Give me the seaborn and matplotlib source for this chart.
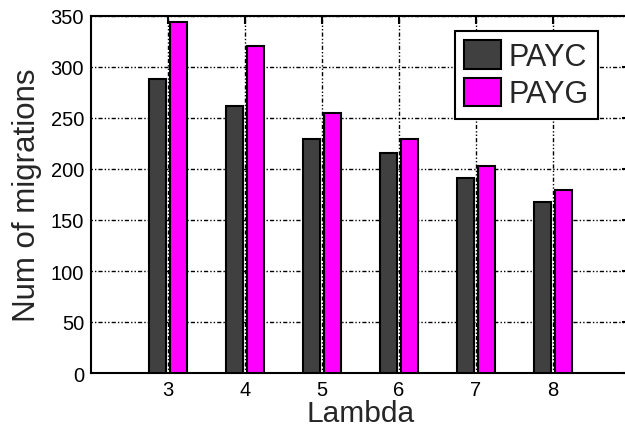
import matplotlib
matplotlib.use("Agg")
import matplotlib.pyplot as plt
import seaborn as sns
import pandas as pd

lambdas = ["3", "4", "5", "6", "7", "8"]
payc = [288, 262, 229, 216, 191, 168]
payg = [344, 321, 255, 229, 203, 179]
series = ["PAYC", "PAYG"]
colors = ["#404040", "#ff00ff"]

df = pd.DataFrame({
    "Lambda": lambdas * 2,
    "value": payc + payg,
    "series": [series[0]] * len(lambdas) + [series[1]] * len(lambdas),
})

sns.set_style("white")
plt.rcParams["font.family"] = ["Liberation Sans", "DejaVu Sans"]

fig = plt.figure(figsize=(6.25, 4.31), dpi=100)
ax = fig.add_axes([91 / 625, 1 - 374 / 431, (630 - 91) / 625, (374 - 17) / 431])

sns.barplot(data=df, x="Lambda", y="value", hue="series", order=lambdas,
            hue_order=series, palette=colors, width=0.56, gap=0.2,
            edgecolor="black", linewidth=1.5, saturation=1, ax=ax, zorder=3)

ax.set_xlim(-1, 6)
ax.set_ylim(0, 350)
ax.set_yticks(range(0, 351, 50))
ax.grid(True, color="black", linestyle=(0, (1, 1.5, 1, 1.5, 3, 1.5)),
        linewidth=1.0, zorder=0)
ax.set_axisbelow(True)
for s in ax.spines.values():
    s.set_visible(True)
    s.set_color("black")
    s.set_linewidth(1.5)
ax.tick_params(direction="in", top=True, right=True, length=6, width=1.5,
               labelsize=14.5, colors="black", pad=5)
ax.set_xlabel("Lambda", fontsize=21.5, labelpad=0)
ax.set_ylabel("Num of migrations", fontsize=22.5, labelpad=6)

leg = ax.legend(loc="upper right", bbox_to_anchor=(0.94, 0.958),
                bbox_transform=ax.transAxes, borderaxespad=0, fontsize=22,
                frameon=True, fancybox=False, edgecolor="black",
                handlelength=1.2, handleheight=1.05, handletextpad=0.25,
                borderpad=0.3, labelspacing=0.2, title=None)
leg.get_frame().set_linewidth(1.5)
leg.get_frame().set_alpha(1)

fig.savefig("out.png", dpi=100)
